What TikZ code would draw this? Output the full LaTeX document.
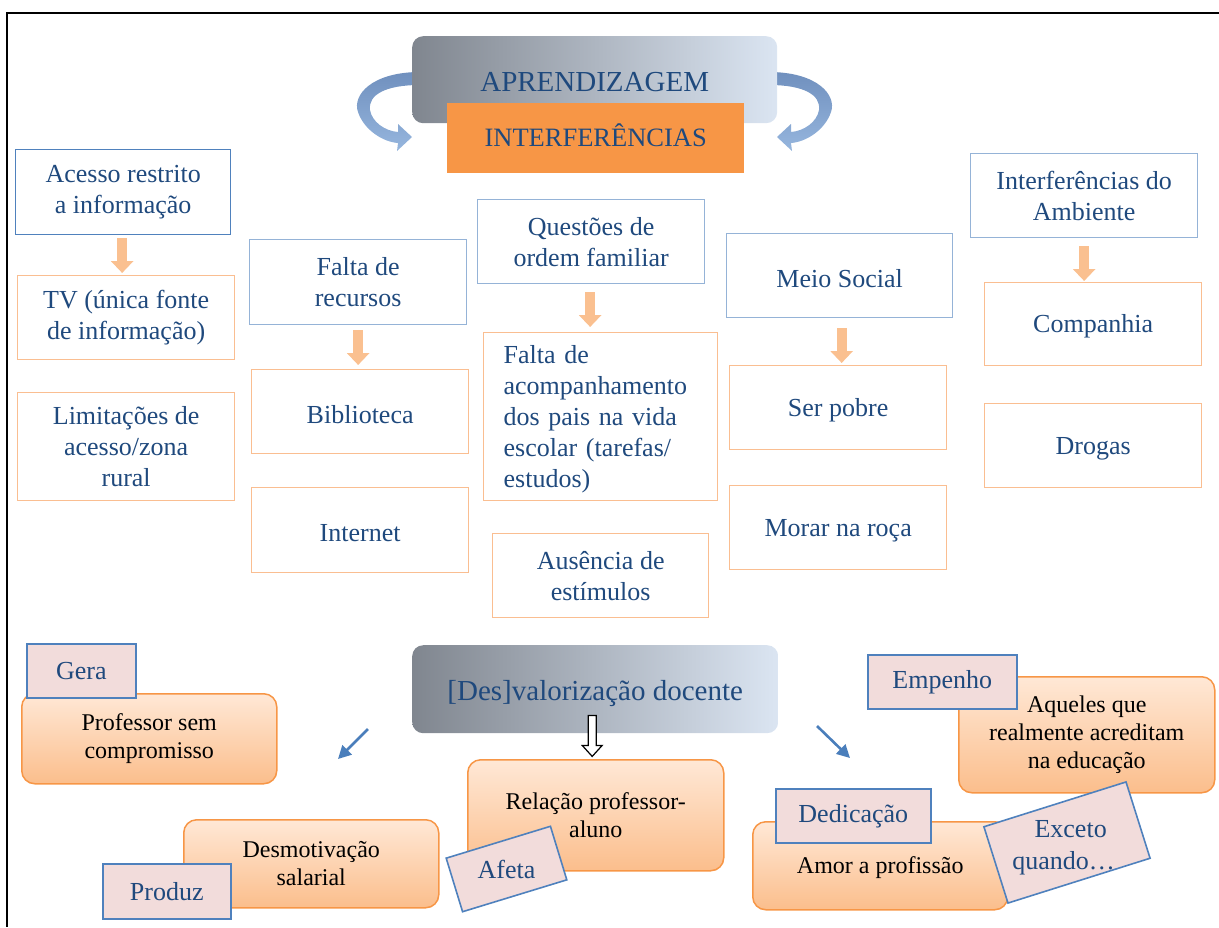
\documentclass[tikz,border=0pt]{standalone}
\usepackage{fontspec}
\setmainfont{Liberation Serif}
\usetikzlibrary{arrows.meta,calc}
\definecolor{dkblue}{RGB}{31,73,125}
\definecolor{bluebd}{RGB}{79,129,189}
\definecolor{bluelt}{RGB}{149,179,215}
\definecolor{orbd}{RGB}{250,190,145}
\definecolor{orarr}{RGB}{250,192,144}
\definecolor{orfill}{RGB}{247,150,70}
\definecolor{gradL}{RGB}{128,134,143}
\definecolor{gradR}{RGB}{219,229,242}
\definecolor{boxtop}{RGB}{255,232,214}
\definecolor{boxbot}{RGB}{251,190,140}
\definecolor{tagfill}{RGB}{242,220,219}
\definecolor{curvetop}{RGB}{112,144,190}
\definecolor{curvebot}{RGB}{150,182,222}
\definecolor{arrblue}{RGB}{74,126,187}
\begin{document}
\begin{tikzpicture}[x=1pt,y=-1pt,
  base/.style={inner sep=0pt, anchor=north west, align=center},
  bluebox/.style={base, draw=bluelt, line width=1.3pt, text=dkblue, font=\fontsize{26}{31}\selectfont, execute at begin node={\rule{0pt}{24pt}}},
  orbox/.style={base, draw=orbd, line width=1.3pt, text=dkblue, font=\fontsize{26}{31}\selectfont, execute at begin node={\rule{0pt}{23pt}}},
  gradbox/.style={base, rounded corners=11pt, left color=gradL, right color=gradR, text=dkblue, font=\fontsize{29}{34}\selectfont},
  obox/.style={base, draw=orfill, line width=1.5pt, rounded corners=13pt, top color=boxtop, bottom color=boxbot, text=black, font=\fontsize{24}{28}\selectfont, execute at begin node={\rule{0pt}{20pt}}},
  tag/.style={base, draw=bluebd, fill=tagfill, line width=1.6pt, text=dkblue, font=\fontsize{26}{30}\selectfont},
  orarrow/.style={draw=orarr, line width=10pt, -{Triangle[width=22pt,length=12pt]}},
  bluearr/.style={draw=arrblue, line width=2.6pt, -{Triangle[width=13pt,length=13pt]}},
  curvearr/.style={top color=curvetop, bottom color=curvebot, draw=none},
  hollow/.style={draw=black, fill=white, line width=1.2pt, line join=miter}
]
\useasboundingbox (0,0) rectangle (1219,927);
% frame
\draw[line width=2pt] (1219,13) -- (7,13) -- (7,927);

% curved arrows around title
\path[curvearr] (420,72) .. controls (372,72) and (352,95) .. (358,112)
   .. controls (364,130) and (383,142) .. (398,143) -- (397,151) -- (412,137) -- (398,124) -- (398,132)
   .. controls (385,131) and (372,122) .. (370,110) .. controls (368,95) and (385,85) .. (420,85) -- cycle;
\path[curvearr] (769,72) .. controls (817,72) and (837,95) .. (831,112)
   .. controls (825,130) and (806,142) .. (791,143) -- (792,151) -- (777,137) -- (791,124) -- (791,132)
   .. controls (804,131) and (817,122) .. (819,110) .. controls (821,95) and (804,85) .. (769,85) -- cycle;

% title
\node[gradbox, minimum width=365pt, minimum height=87pt] (aprend) at (412,36) {\rule{0pt}{23pt}APRENDIZAGEM};
\node[base, fill=orfill, text=dkblue, font=\fontsize{26.5}{30}\selectfont, minimum width=297pt, minimum height=70pt] (interfer) at (447,103) {\rule[-6pt]{0pt}{0pt}INTERFERÊNCIAS};

% column 1
\node[bluebox, draw=bluebd, minimum width=215pt, minimum height=85pt] (acesso) at (15,149) {Acesso restrito\\a informação};
\node[orbox, minimum width=217pt, minimum height=84pt] (tv) at (17,275) {TV (única fonte\\de informação)};
\node[orbox, minimum width=217pt, minimum height=108pt] (limit) at (17,392) {Limitações de\\acesso/zona\\rural};
% column 2
\node[bluebox, minimum width=217pt, minimum height=85pt] (falta) at (249,239) {Falta de\\recursos};
\node[orbox, minimum width=217pt, minimum height=84pt] (biblio) at (251,369) {Biblioteca};
\node[orbox, minimum width=217pt, minimum height=85pt] (internet) at (251,487) {Internet};
% column 3
\node[bluebox, minimum width=227pt, minimum height=84pt] (quest) at (477,199) {Questões de\\ordem familiar};
\node[orbox, align=left, text width=194pt, inner xsep=20pt, minimum height=168pt] (acomp) at (483,332) {Falta de\\acompanhamento\\dos pais na vida\\escolar (tarefas/\\estudos)};
\node[orbox, minimum width=216pt, minimum height=84pt] (ausencia) at (492,533) {Ausência de\\estímulos};
% column 4
\node[bluebox, minimum width=226pt, minimum height=84pt] (meio) at (726,233) {Meio Social};
\node[orbox, minimum width=217pt, minimum height=84pt] (pobre) at (729,365) {Ser pobre};
\node[orbox, minimum width=217pt, minimum height=84pt] (morar) at (729,485) {Morar na roça};
% column 5
\node[bluebox, minimum width=227pt, minimum height=84pt] (ambiente) at (970,153) {Interferências do\\Ambiente};
\node[orbox, minimum width=217pt, minimum height=83pt] (compan) at (984,282) {Companhia};
\node[orbox, minimum width=217pt, minimum height=84pt] (drogas) at (984,403) {Drogas};

% orange block arrows
\draw[orarrow] ($(acesso.south)+(-1,3)$) -- ($(acesso.south |- tv.north)+(-1,-2)$);
\draw[orarrow] ($(falta.south)+(0,5)$) -- ($(falta.south |- biblio.north)+(0,-4)$);
\draw[orarrow] ($(quest.south)+(-1,8)$) -- ($(quest.south |- acomp.north)+(-1,-5)$);
\draw[orarrow] ($(meio.south)+(2,10)$) -- ($(meio.south |- pobre.north)+(2,-2)$);
\draw[orarrow] ($(ambiente.south)+(0,8)$) -- ($(ambiente.south |- compan.north)+(0,-1)$);

% lower part
\node[gradbox, minimum width=366pt, minimum height=88pt] (des) at (412,645) {\rule{0pt}{29pt}[Des]valorização docente};

\node[obox, minimum width=255pt, minimum height=90pt] (prof) at (21,693) {Professor sem\\compromisso};
\node[tag, minimum width=109pt, minimum height=54pt] (gera) at (26,643) {Gera};

\node[obox, minimum width=255pt, minimum height=88pt] (desmot) at (183,819) {Desmotivação\\salarial};
\node[tag, minimum width=128pt, minimum height=55pt] (produz) at (102,863) {Produz};

\node[obox, minimum width=256pt, minimum height=111pt] (relacao) at (467,759) {Relação professor-\\aluno};
\node[tag, anchor=center, rotate=17, minimum width=109pt, minimum height=56pt] (afeta) at (506.5,869) {\rotatebox{-17}{Afeta}};

\node[obox, minimum width=256pt, minimum height=116pt] (aqueles) at (958,676) {Aqueles que\\realmente acreditam\\na educação};
\node[tag, minimum width=149pt, minimum height=54pt] (empenho) at (867,654) {Empenho};

\node[obox, minimum width=255pt, minimum height=88pt] (amor) at (752,821) {Amor a profissão};
\node[tag, minimum width=155pt, minimum height=54pt] (dedic) at (775,788) {Dedicação};
\node[tag, anchor=center, rotate=17.5, minimum width=149pt, minimum height=80pt, font=\fontsize{26}{32}\selectfont] (exceto) at (1067,842.5) {\raisebox{-12pt}[0pt][0pt]{\makebox[0pt]{\hspace*{4pt}\rotatebox[origin=c]{-17.5}{\begin{tabular}{@{}c@{}}Exceto\\quando…\hspace*{14pt}\end{tabular}}}}};

% hollow arrow from des to relacao
\coordinate (hb) at ($(des.south)+(-3,0)$);
\draw[hollow] ($(hb)+(-4,-18)$) -- ($(hb)+(4,-18)$) -- ($(hb)+(4,12)$) -- ($(hb)+(10,12)$)
   -- ($(hb)+(0,23)$) -- ($(hb)+(-10,12)$) -- ($(hb)+(-4,12)$) -- cycle;

% blue arrows
\coordinate (la1) at (368,729);
\coordinate (la2) at (338,759);
\coordinate (ra1) at (817,726);
\coordinate (ra2) at (850,758);
\draw[bluearr] (la1) -- (la2);
\draw[bluearr] (ra1) -- (ra2);
\end{tikzpicture}
\end{document}
